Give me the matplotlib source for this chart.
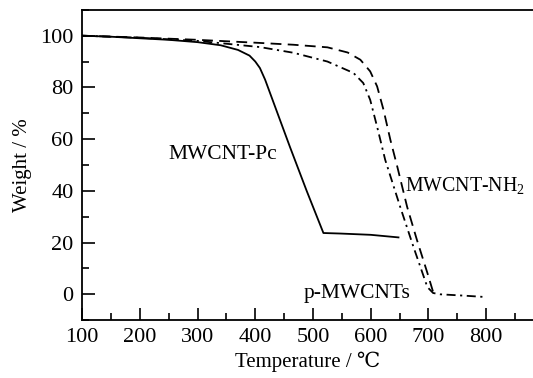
import matplotlib
matplotlib.use('Agg')
import matplotlib.pyplot as plt
from matplotlib.ticker import MultipleLocator

plt.rcParams['font.family'] = ['Liberation Serif', 'DejaVu Serif']
plt.rcParams['mathtext.fontset'] = 'custom'
plt.rcParams['mathtext.rm'] = 'Liberation Serif'
plt.rcParams['mathtext.it'] = 'Liberation Serif:italic'

# TGA curves
pc_t = [100, 150, 200, 250, 300, 340, 370, 390, 400, 408, 417, 460, 489, 518, 547, 600, 648]
pc_w = [100, 99.6, 99, 98.4, 97.5, 96.3, 94.5, 92.3, 90, 87.5, 83, 57, 40, 23.7, 23.5, 23, 22]

nh2_t = [100, 200, 300, 408, 466, 525, 560, 582, 599, 611, 622, 634, 646, 663, 680, 698, 708, 715]
nh2_w = [100, 99.3, 98.4, 97.2, 96.5, 95.5, 93.5, 90.7, 86.2, 80.4, 71.4, 59.7, 49.3, 33.8, 21, 8.3, 0.9, 0.3]

p_t = [100, 200, 300, 408, 466, 525, 570, 587, 599, 611, 625, 651, 674, 698, 708, 720, 760, 795]
p_w = [100, 99.2, 98, 95.6, 93.4, 90, 85.6, 81.7, 75.2, 64.8, 52, 33.8, 18.3, 2.8, 0.5, 0, -0.5, -1]

fig = plt.figure(figsize=(5.33, 3.78), dpi=100)
ax = fig.add_axes([0.154, 0.153, 0.846, 0.821])

ax.plot(pc_t, pc_w, color='black', lw=1.3, ls='-')
ax.plot(nh2_t, nh2_w, color='black', lw=1.3, ls=(0, (6, 3.5)))
ax.plot(p_t, p_w, color='black', lw=1.3, ls=(0, (5, 2.5, 1.2, 2.5)))

ax.text(343, 54, 'MWCNT-Pc', fontsize=15.5, ha='center', va='center')
ax.text(660, 42, 'MWCNT-NH$_2$', fontsize=14.3, ha='left', va='center')
ax.text(483, 0.5, 'p-MWCNTs', fontsize=15.5, ha='left', va='center')

ax.set_xlim(100, 881)
ax.set_ylim(-10, 110)
ax.xaxis.set_major_locator(MultipleLocator(100))
ax.xaxis.set_minor_locator(MultipleLocator(50))
ax.yaxis.set_major_locator(MultipleLocator(20))
ax.yaxis.set_minor_locator(MultipleLocator(10))
ax.set_xticks(range(100, 801, 100))
ax.tick_params(which='both', direction='in', width=1.2, labelsize=16, pad=6)
ax.tick_params(which='major', length=9)
ax.tick_params(which='minor', length=5)
ax.tick_params(top=False, right=False, which='both')
ax.spines['right'].set_visible(False)
for s in ['left', 'bottom', 'top']:
    ax.spines[s].set_linewidth(1.3)

ax.set_xlabel('Temperature / ℃', fontsize=15, labelpad=3)
ax.set_ylabel('Weight / %', fontsize=15, labelpad=6)

fig.savefig('out.png', dpi=100, facecolor='white')
